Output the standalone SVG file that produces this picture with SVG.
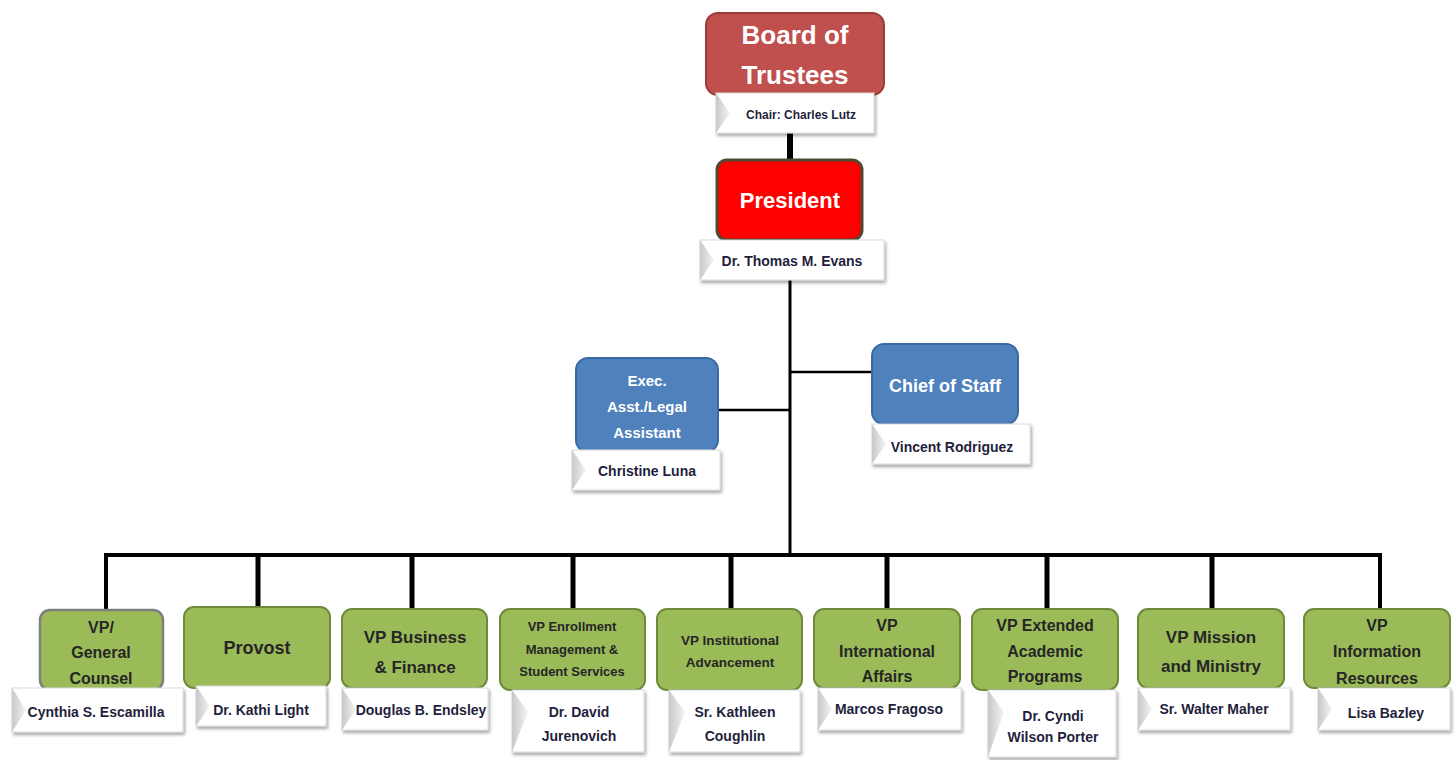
<svg xmlns="http://www.w3.org/2000/svg" width="1456" height="760" viewBox="0 0 1456 760">
<defs>
<linearGradient id="bev" x1="0" y1="0" x2="1" y2="0">
<stop offset="0" stop-color="#c8c8c8"/><stop offset="1" stop-color="#f4f4f4"/>
</linearGradient>
<filter id="sh" x="-10%" y="-20%" width="125%" height="160%">
<feDropShadow dx="1.5" dy="2.5" stdDeviation="1.5" flood-color="#000" flood-opacity="0.35"/>
</filter>
</defs>
<style>
.lbl{fill:#fff;stroke:#d9d9d9;stroke-width:1;filter:url(#sh)}
.bev{fill:url(#bev)}
.nm{font-family:"Liberation Sans",Arial,sans-serif;font-weight:bold;font-size:14px;fill:#1f1f3d;text-anchor:middle}
.g{fill:#9bbb59;stroke:#6f8a3a;stroke-width:2}
.gt{font-family:"Liberation Sans",Arial,sans-serif;font-weight:bold;fill:#262626;text-anchor:middle}
.b{fill:#4f81bd;stroke:#3a6aa3;stroke-width:2}
.wt{font-family:"Liberation Sans",Arial,sans-serif;font-weight:bold;fill:#fff;text-anchor:middle}
.c{stroke:#000;fill:none}
</style>
<g id="connectors">
<line class="c" x1="790" y1="133" x2="790" y2="162" stroke-width="6"/>
<line class="c" x1="790" y1="280" x2="790" y2="557" stroke-width="3"/>
<line class="c" x1="790" y1="372" x2="874" y2="372" stroke-width="2.5"/>
<line class="c" x1="717" y1="410" x2="790" y2="410" stroke-width="2.5"/>
<polyline class="c" points="106,612 106,555 1380,555 1380,612" stroke-width="4"/>
<line class="c" x1="258" y1="555" x2="258" y2="609" stroke-width="5"/>
<line class="c" x1="412" y1="555" x2="412" y2="611" stroke-width="5"/>
<line class="c" x1="573" y1="555" x2="573" y2="611" stroke-width="5"/>
<line class="c" x1="731" y1="555" x2="731" y2="611" stroke-width="5"/>
<line class="c" x1="887" y1="555" x2="887" y2="611" stroke-width="5"/>
<line class="c" x1="1047" y1="555" x2="1047" y2="611" stroke-width="5"/>
<line class="c" x1="1212" y1="555" x2="1212" y2="611" stroke-width="5"/>
</g>
<g id="board">
<rect x="706" y="13" width="178" height="82" rx="12" fill="#c0504d" stroke="#9b3b38" stroke-width="2"/>
<text class="wt" font-size="26" x="795" y="44">Board of</text>
<text class="wt" font-size="26" x="795" y="84">Trustees</text>
<rect class="lbl" x="716" y="93" width="158" height="40"/>
<polygon class="bev" points="716,93 730,113 716,133"/>
<text class="nm" style="font-size:12px" x="801" y="119">Chair: Charles Lutz</text>
</g>
<g id="president">
<rect x="717" y="160" width="145" height="80" rx="10" fill="#ff0000" stroke="#4f4a30" stroke-width="3"/>
<text class="wt" font-size="22" x="790" y="208">President</text>
<rect class="lbl" x="700" y="240" width="184" height="40"/>
<polygon class="bev" points="700,240 714,260 700,280"/>
<text class="nm" x="792" y="266">Dr. Thomas M. Evans</text>
</g>
<g id="exec">
<rect class="b" x="576" y="358" width="142" height="94" rx="12"/>
<text class="wt" font-size="15" x="647" y="386">Exec.</text>
<text class="wt" font-size="15" x="647" y="412">Asst./Legal</text>
<text class="wt" font-size="15" x="647" y="438">Assistant</text>
<rect class="lbl" x="572" y="450" width="148" height="40"/>
<polygon class="bev" points="572,450 586,470 572,490"/>
<text class="nm" x="647" y="476">Christine Luna</text>
</g>
<g id="chief">
<rect class="b" x="872" y="344" width="146" height="80" rx="12"/>
<text class="wt" font-size="18" x="945" y="392">Chief of Staff</text>
<rect class="lbl" x="872" y="424" width="158" height="40"/>
<polygon class="bev" points="872,424 886,444 872,464"/>
<text class="nm" x="952" y="452">Vincent Rodriguez</text>
</g>
<g id="vp-counsel">
<rect x="40" y="610" width="123" height="80" rx="10" fill="#9bbb59" stroke="#7f7f7f" stroke-width="2.5"/>
<text class="gt" font-size="16" x="101" y="633">VP/</text>
<text class="gt" font-size="16" x="101" y="658">General</text>
<text class="gt" font-size="16" x="101" y="684">Counsel</text>
<rect class="lbl" x="12" y="688" width="171" height="44"/>
<polygon class="bev" points="12,688 26,710 12,732"/>
<text class="nm" x="96" y="717">Cynthia S. Escamilla</text>
</g>
<g id="provost">
<rect class="g" x="184" y="607" width="146" height="81" rx="10"/>
<text class="gt" font-size="18" x="257" y="654">Provost</text>
<rect class="lbl" x="196" y="686" width="130" height="40"/>
<polygon class="bev" points="196,686 210,706 196,726"/>
<text class="nm" x="261" y="715">Dr. Kathi Light</text>
</g>
<g id="vp-business">
<rect class="g" x="342" y="609" width="145" height="79" rx="10"/>
<text class="gt" font-size="17" x="415" y="643">VP Business</text>
<text class="gt" font-size="17" x="415" y="673">&amp; Finance</text>
<rect class="lbl" x="342" y="688" width="146" height="42"/>
<polygon class="bev" points="342,688 356,709 342,730"/>
<text class="nm" x="421" y="715">Douglas B. Endsley</text>
</g>
<g id="vp-enrollment">
<rect class="g" x="500" y="609" width="145" height="81" rx="10"/>
<text class="gt" font-size="13" x="572" y="631">VP Enrollment</text>
<text class="gt" font-size="13" x="572" y="654">Management &amp;</text>
<text class="gt" font-size="13" x="572" y="676">Student Services</text>
<rect class="lbl" x="512" y="690" width="132" height="62"/>
<polygon class="bev" points="512,690 528,712 512,752"/>
<text class="nm" x="579" y="717">Dr. David</text>
<text class="nm" x="579" y="741">Jurenovich</text>
</g>
<g id="vp-advancement">
<rect class="g" x="657" y="609" width="145" height="81" rx="10"/>
<text class="gt" font-size="13.5" x="730" y="645">VP Institutional</text>
<text class="gt" font-size="13.5" x="730" y="667">Advancement</text>
<rect class="lbl" x="669" y="690" width="131" height="62"/>
<polygon class="bev" points="669,690 685,712 669,752"/>
<text class="nm" x="735" y="717">Sr. Kathleen</text>
<text class="nm" x="735" y="741">Coughlin</text>
</g>
<g id="vp-international">
<rect class="g" x="814" y="609" width="146" height="79" rx="10"/>
<text class="gt" font-size="16" x="887" y="631">VP</text>
<text class="gt" font-size="16" x="887" y="657">International</text>
<text class="gt" font-size="16" x="887" y="682">Affairs</text>
<rect class="lbl" x="818" y="688" width="143" height="42"/>
<polygon class="bev" points="818,688 832,709 818,730"/>
<text class="nm" x="889" y="714">Marcos Fragoso</text>
</g>
<g id="vp-extended">
<rect class="g" x="972" y="609" width="146" height="81" rx="10"/>
<text class="gt" font-size="16" x="1045" y="631">VP Extended</text>
<text class="gt" font-size="16" x="1045" y="657">Academic</text>
<text class="gt" font-size="16" x="1045" y="682">Programs</text>
<rect class="lbl" x="988" y="690" width="128" height="67"/>
<polygon class="bev" points="988,690 1004,712 988,757"/>
<text class="nm" x="1053" y="721">Dr. Cyndi</text>
<text class="nm" x="1053" y="742">Wilson Porter</text>
</g>
<g id="vp-mission">
<rect class="g" x="1138" y="609" width="146" height="79" rx="10"/>
<text class="gt" font-size="17" x="1211" y="643">VP Mission</text>
<text class="gt" font-size="17" x="1211" y="672">and Ministry</text>
<rect class="lbl" x="1138" y="688" width="152" height="42"/>
<polygon class="bev" points="1138,688 1152,709 1138,730"/>
<text class="nm" x="1214" y="714">Sr. Walter Maher</text>
</g>
<g id="vp-information">
<rect class="g" x="1304" y="609" width="146" height="79" rx="10"/>
<text class="gt" font-size="16" x="1377" y="631">VP</text>
<text class="gt" font-size="16" x="1377" y="657">Information</text>
<text class="gt" font-size="16" x="1377" y="684">Resources</text>
<rect class="lbl" x="1318" y="688" width="132" height="42"/>
<polygon class="bev" points="1318,688 1332,709 1318,730"/>
<text class="nm" x="1386" y="718">Lisa Bazley</text>
</g>
</svg>
